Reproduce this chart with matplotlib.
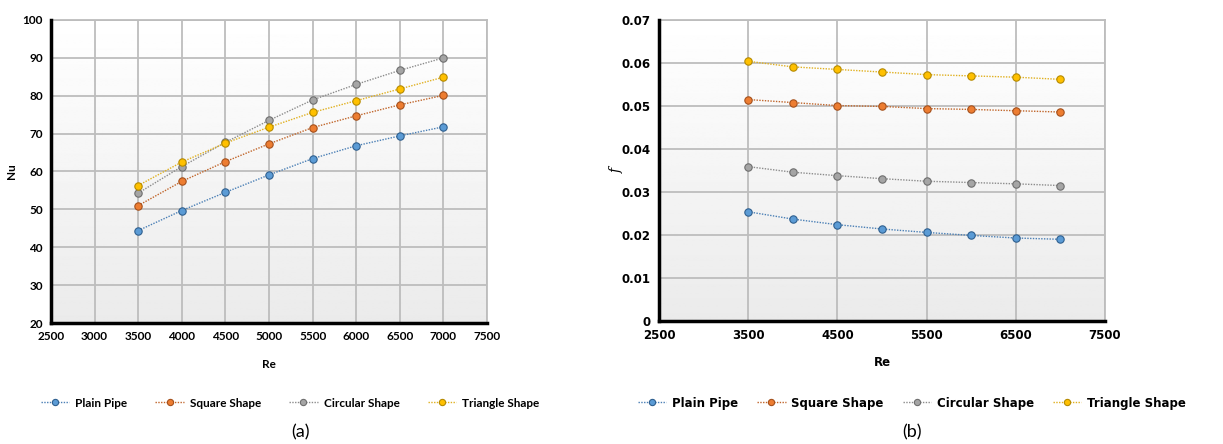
import numpy as np
import matplotlib
matplotlib.use("Agg")
import matplotlib.pyplot as plt
from matplotlib.lines import Line2D

re_vals = [3500, 4000, 4500, 5000, 5500, 6000, 6500, 7000]
series_names = ["Plain Pipe", "Square Shape", "Circular Shape", "Triangle Shape"]

nu_plain = [44.4, 49.7, 54.5, 59.1, 63.4, 66.8, 69.4, 71.8]
nu_square = [51.0, 57.4, 62.6, 67.3, 71.6, 74.7, 77.6, 80.1]
nu_circular = [54.3, 61.3, 67.7, 73.5, 78.9, 83.0, 86.7, 90.0]
nu_triangle = [56.3, 62.5, 67.5, 71.7, 75.6, 78.7, 81.8, 84.9]

f_plain = [0.0254, 0.0237, 0.0224, 0.0214, 0.0206, 0.0199, 0.0193, 0.0190]
f_square = [0.0515, 0.0508, 0.0501, 0.0499, 0.0494, 0.0492, 0.0489, 0.0486]
f_circular = [0.0359, 0.0346, 0.0338, 0.0331, 0.0325, 0.0322, 0.0319, 0.0315]
f_triangle = [0.0604, 0.0591, 0.0585, 0.0579, 0.0573, 0.0570, 0.0567, 0.0562]

left_xticks = [2500, 3000, 3500, 4000, 4500, 5000, 5500, 6000, 6500, 7000, 7500]
left_yticks = [20, 30, 40, 50, 60, 70, 80, 90, 100]
right_xticks = [2500, 3500, 4500, 5500, 6500, 7500]
right_yticks = [0, 0.01, 0.02, 0.03, 0.04, 0.05, 0.06, 0.07]
right_ytick_labels = ["0", "0.01", "0.02", "0.03", "0.04", "0.05", "0.06", "0.07"]

fill_colors = ["#5b9bd5", "#ed7d31", "#a5a5a5", "#ffc000"]
edge_colors = ["#2e5f8f", "#a4501c", "#6e6e6e", "#b58a00"]
line_colors = ["#4a7fb5", "#c0652a", "#8c8c8c", "#e0b020"]

fig = plt.figure(figsize=(12.23, 4.44), dpi=100)

ax1 = fig.add_axes([51/1223, 1-323/444, 436/1223, 303/444])
ax2 = fig.add_axes([659/1223, 1-321/444, 446/1223, 301/444])

grad = np.linspace(1.0, 0.92, 256).reshape(-1, 1)

def style(ax, xlim, ylim, xticks, yticks, ylabels, fontfam):
    ax.imshow(grad, extent=[xlim[0], xlim[1], ylim[0], ylim[1]], aspect="auto",
              cmap="gray", vmin=0, vmax=1, zorder=0, origin="upper")
    ax.set_xlim(*xlim)
    ax.set_ylim(*ylim)
    ax.set_xticks(xticks)
    ax.set_yticks(yticks)
    ax.set_xticklabels([str(t) for t in xticks], fontfamily=fontfam, fontweight="bold", fontsize=8.5)
    ax.set_yticklabels(ylabels, fontfamily=fontfam, fontweight="bold", fontsize=8.5)
    ax.tick_params(length=0, pad=6)
    ax.grid(True, color="#bdbdbd", linewidth=1.3, zorder=1)
    ax.set_axisbelow(True)
    for s in ["top", "right"]:
        ax.spines[s].set_color("#bdbdbd")
        ax.spines[s].set_linewidth(1.3)
    for s in ["left", "bottom"]:
        ax.spines[s].set_color("black")
        ax.spines[s].set_linewidth(2.5)
        ax.spines[s].set_zorder(5)

style(ax1, (2500, 7500), (20, 100), left_xticks, left_yticks,
      [str(t) for t in left_yticks], "Lato")
style(ax2, (2500, 7500), (0, 0.07), right_xticks, right_yticks,
      right_ytick_labels, "DejaVu Sans")

nu_series = [nu_plain, nu_square, nu_circular, nu_triangle]
f_series = [f_plain, f_square, f_circular, f_triangle]

for i in range(4):
    ax1.plot(re_vals, nu_series[i], linestyle=(0, (1, 1)), linewidth=1.0, color=line_colors[i],
             marker="o", markersize=5.3, markerfacecolor=fill_colors[i],
             markeredgecolor=edge_colors[i], markeredgewidth=0.8, zorder=3)
    ax2.plot(re_vals, f_series[i], linestyle=(0, (1, 1)), linewidth=1.0, color=line_colors[i],
             marker="o", markersize=5.3, markerfacecolor=fill_colors[i],
             markeredgecolor=edge_colors[i], markeredgewidth=0.8, zorder=3)

ax1.set_xlabel("Re", fontfamily="Lato", fontweight="bold", fontsize=8.5, labelpad=12)
ax1.set_ylabel("Nu", fontfamily="Lato", fontweight="bold", fontsize=8.5, labelpad=4)
ax2.set_xlabel("Re", fontfamily="DejaVu Sans", fontweight="bold", fontsize=8.5, labelpad=10)
ax2.set_ylabel("f", fontfamily="DejaVu Serif", fontstyle="italic", fontsize=10, labelpad=-2)

def handles():
    return [Line2D([0], [0], linestyle=(0, (1, 1)), linewidth=1.0, color=line_colors[i],
                   marker="o", markersize=4.5, markerfacecolor=fill_colors[i],
                   markeredgecolor=edge_colors[i], markeredgewidth=0.8)
            for i in range(4)]

fig.legend(handles(), series_names, loc="center", bbox_to_anchor=(290/1223, 1-403/444),
           ncol=4, frameon=False, handlelength=2.4, columnspacing=2.4, handletextpad=0.5,
           prop={"family": "Lato", "weight": "bold", "size": 8.5})
fig.legend(handles(), series_names, loc="center", bbox_to_anchor=(912/1223, 1-403/444),
           ncol=4, frameon=False, handlelength=2.4, columnspacing=1.6, handletextpad=0.5,
           prop={"family": "DejaVu Sans", "weight": "bold", "size": 8.5})

fig.text(300/1223, 1-432/444, "(a)", ha="center", va="center", fontsize=13, fontfamily="Lato")
fig.text(912/1223, 1-432/444, "(b)", ha="center", va="center", fontsize=13, fontfamily="Lato")

fig.savefig("out.png", dpi=100)
